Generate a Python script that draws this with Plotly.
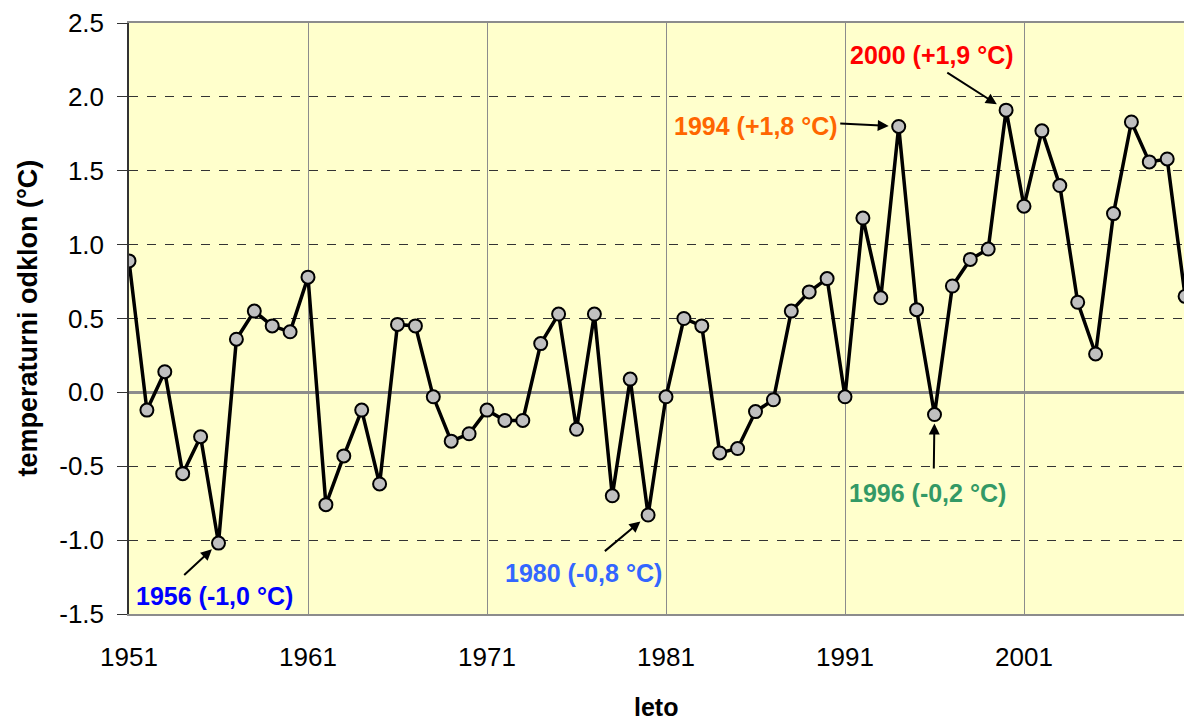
import plotly.graph_objects as go

years = list(range(1951, 2011))
anomaly = [
    0.89, -0.12, 0.14, -0.55, -0.30, -1.02, 0.36, 0.55, 0.45, 0.41,
    0.78, -0.76, -0.43, -0.12, -0.62, 0.46, 0.45, -0.03, -0.33, -0.28,
    -0.12, -0.19, -0.19, 0.33, 0.53, -0.25, 0.53, -0.70, 0.09, -0.83,
    -0.03, 0.50, 0.45, -0.41, -0.38, -0.13, -0.05, 0.55, 0.68, 0.77,
    -0.03, 1.18, 0.64, 1.80, 0.56, -0.15, 0.72, 0.90, 0.97, 1.91,
    1.26, 1.77, 1.40, 0.61, 0.26, 1.21, 1.83, 1.56, 1.58, 0.65,
]

x_ticks = [1951, 1961, 1971, 1981, 1991, 2001]
y_ticks = [-1.5, -1.0, -0.5, 0.0, 0.5, 1.0, 1.5, 2.0, 2.5]

# annotation: (year, value, label, colour, text_x, text_y, tail_x, tail_y, standoff)
notes = [
    (1956, -1.02, "1956 (-1,0 °C)", "#0000FF", 1955.79, -1.375, 1954.0, -1.245, 9),
    (1980, -0.83, "1980 (-0,8 °C)", "#3366FF", 1976.40, -1.225, 1977.5, -1.083, 10),
    (1994, 1.80, "1994 (+1,8 °C)", "#FF6600", 1986.04, 1.80, 1990.65, 1.82, 10),
    (2000, 1.91, "2000 (+1,9 °C)", "#FF0000", 1995.85, 2.285, 1996.63, 2.17, 11),
    (1996, -0.15, "1996 (-0,2 °C)", "#339966", 1995.62, -0.684, 1995.96, -0.525, 9),
]

FONT = "Arial, 'Liberation Sans', Helvetica, sans-serif"

W, H = 1184, 721
ML, MT, MB = 129, 23, 107
PLOT_W = W - ML
PLOT_H = H - MT - MB

fig = go.Figure()

fig.add_trace(go.Scatter(
    x=years, y=anomaly, mode="lines+markers",
    line=dict(color="black", width=3.5),
    marker=dict(size=13, color="#C0C0C0", line=dict(color="black", width=2)),
    showlegend=False, hoverinfo="x+y",
))

annotations = []
for yr, val, label, col, tx, ty, ax, ay, so in notes:
    annotations.append(dict(
        x=yr, y=val, xref="x", yref="y", ax=ax, ay=ay, axref="x", ayref="y",
        text="", showarrow=True, arrowhead=2, arrowsize=1.1, arrowwidth=2,
        arrowcolor="black", standoff=so,
    ))
    annotations.append(dict(
        x=tx, y=ty, xref="x", yref="y", text="<b>" + label + "</b>",
        showarrow=False, font=dict(family=FONT, size=25, color=col),
        xanchor="center", yanchor="middle",
    ))

annotations.append(dict(
    x=-102 / PLOT_W, y=0.5, xref="paper", yref="paper",
    text="<b>temperaturni odklon (°C)</b>", textangle=-90, showarrow=False,
    font=dict(family=FONT, size=27, color="black"),
    xanchor="center", yanchor="middle",
))
annotations.append(dict(
    x=(656 - ML) / PLOT_W, y=-93 / PLOT_H, xref="paper", yref="paper",
    text="<b>leto</b>", showarrow=False,
    font=dict(family=FONT, size=25, color="black"),
    xanchor="center", yanchor="middle",
))

fig.update_layout(
    width=W, height=H,
    margin=dict(l=ML, r=0, t=MT, b=MB, autoexpand=False),
    paper_bgcolor="white", plot_bgcolor="#FFFFCC",
    font=dict(family=FONT, size=24, color="black"),
    annotations=annotations,
)

fig.update_xaxes(
    range=[1951, 1951 + PLOT_W / 17.9], tickmode="array", tickvals=x_ticks,
    ticktext=[str(v) for v in x_ticks], automargin=False,
    showgrid=True, gridcolor="#8C8C8C", gridwidth=1,
    showline=True, linecolor="#8C8C8C", linewidth=2, mirror=True,
    ticks="", ticklabelstandoff=19, zeroline=False,
    tickfont=dict(family=FONT, size=26, color="black"),
)

fig.update_yaxes(
    range=[-1.5, 2.5], tickmode="array", tickvals=y_ticks,
    ticktext=[f"{v:.1f}" for v in y_ticks], automargin=False,
    showgrid=True, gridcolor="#333333", gridwidth=1, griddash="dash",
    zeroline=True, zerolinecolor="#8C8C8C", zerolinewidth=3,
    showline=True, linecolor="#333333", linewidth=1.5,
    ticks="outside", ticklen=10, tickcolor="#333333", tickwidth=1,
    ticklabelstandoff=8,
    tickfont=dict(family=FONT, size=26, color="black"),
)

fig.write_html(
    "out.html",
    config={"displayModeBar": False},
    post_script="document.body.style.margin='0';document.body.style.overflow='hidden';",
)
